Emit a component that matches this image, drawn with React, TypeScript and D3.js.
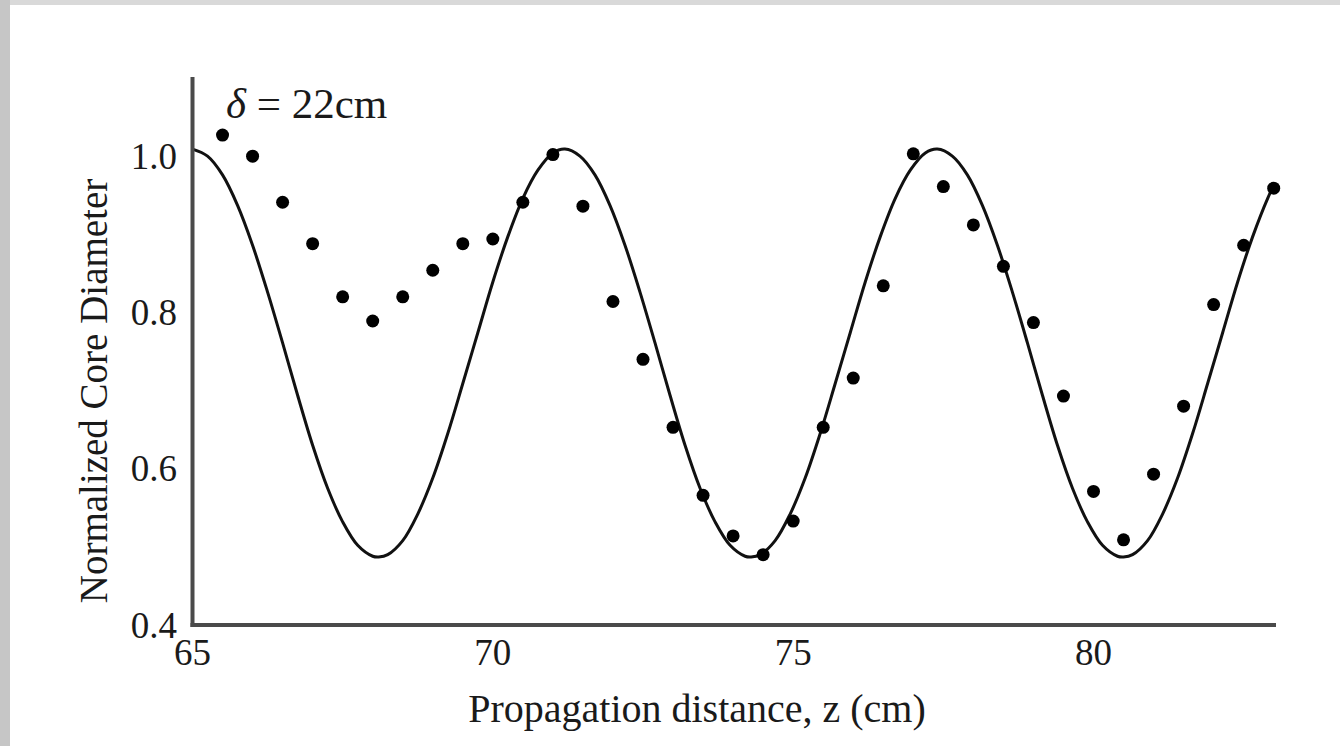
import React, { useEffect, useRef } from 'react';
import * as d3 from 'd3';

// axis ticks
const xTicks = [65, 70, 75, 80];
const yTicks = [0.4, 0.6, 0.8, 1.0];

// measured points (dots)
const dotZ = [
  65.5, 66, 66.5, 67, 67.5, 68, 68.5, 69, 69.5, 70, 70.5, 71,
  71.5, 72, 72.5, 73, 73.5, 74, 74.5, 75, 75.5, 76, 76.5, 77,
  77.5, 78, 78.5, 79, 79.5, 80, 80.5, 81, 81.5, 82, 82.5, 83,
];
const dotValues = [
  1.027, 1.0, 0.941, 0.888, 0.82, 0.789, 0.82, 0.854, 0.888, 0.894, 0.941, 1.002,
  0.936, 0.814, 0.74, 0.653, 0.566, 0.514, 0.49, 0.533, 0.653, 0.716, 0.834, 1.003,
  0.961, 0.912, 0.859, 0.787, 0.693, 0.571, 0.509, 0.593, 0.68, 0.81, 0.886, 0.959,
];

// theory curve
const fitZ = [
  65, 65.25, 65.5, 65.75, 66, 66.25, 66.5, 66.75, 67, 67.25, 67.5, 67.75, 68, 68.1,
  68.25, 68.5, 68.75, 69, 69.25, 69.5, 69.75, 70, 70.25, 70.5, 70.75, 71,
  71.2, 71.45, 71.7, 71.95, 72.2, 72.45, 72.7, 72.95, 73.2, 73.45, 73.7, 73.95, 74.2, 74.3,
  74.45, 74.7, 74.95, 75.2, 75.45, 75.7, 75.95, 76.2, 76.45, 76.7, 76.95, 77.2,
  77.4, 77.65, 77.9, 78.15, 78.4, 78.65, 78.9, 79.15, 79.4, 79.65, 79.9, 80.15, 80.4, 80.5,
  80.65, 80.9, 81.15, 81.4, 81.65, 81.9, 82.15, 82.4, 82.65, 82.9, 83,
];
const fitValues = [
  1.009, 1.0, 0.976, 0.937, 0.886, 0.826, 0.761, 0.694, 0.63, 0.575, 0.532, 0.502, 0.488, 0.487,
  0.49, 0.508, 0.542, 0.588, 0.645, 0.709, 0.774, 0.839, 0.897, 0.946, 0.982, 1.004,
  1.009, 1.0, 0.976, 0.937, 0.886, 0.826, 0.761, 0.694, 0.63, 0.575, 0.532, 0.502, 0.488, 0.487,
  0.49, 0.508, 0.542, 0.588, 0.645, 0.709, 0.774, 0.839, 0.897, 0.946, 0.982, 1.004,
  1.009, 1.0, 0.976, 0.937, 0.886, 0.826, 0.761, 0.694, 0.63, 0.575, 0.532, 0.502, 0.488, 0.487,
  0.49, 0.508, 0.542, 0.588, 0.645, 0.709, 0.774, 0.839, 0.897, 0.946, 0.962,
];

const FONT = "'Liberation Serif', 'Times New Roman', serif";

const App = () => {
  const ref = useRef<SVGSVGElement>(null);

  useEffect(() => {
    document.body.style.margin = '0';
    const svg = d3.select(ref.current);
    svg.selectAll('*').remove();

    const width = 1340;
    const height = 746;

    const x = d3.scaleLinear().domain([65, 83]).range([192.5, 1273.7]);
    const y = d3.scaleLinear().domain([0.4, 1.1]).range([625, 78]);

    // page frame
    svg.append('rect').attr('width', width).attr('height', height).attr('fill', '#fff');
    svg.append('rect').attr('width', width).attr('height', 5).attr('fill', '#d9d9d9');
    svg.append('rect').attr('width', 10).attr('height', height).attr('fill', '#c6c6c6');

    // theory curve
    const line = d3.line<number>()
      .x((d, i) => x(fitZ[i]))
      .y(d => y(d))
      .curve(d3.curveCatmullRom.alpha(0.5));

    svg.append('path')
      .attr('d', line(fitValues))
      .attr('fill', 'none')
      .attr('stroke', '#111')
      .attr('stroke-width', 3);

    // dots
    svg.append('g')
      .selectAll('circle')
      .data(dotValues)
      .join('circle')
      .attr('cx', (d, i) => x(dotZ[i]))
      .attr('cy', d => y(d))
      .attr('r', 6.5)
      .attr('fill', '#000');

    // axes
    svg.append('line')
      .attr('x1', x(65)).attr('x2', x(65))
      .attr('y1', 77).attr('y2', y(0.4) + 2)
      .attr('stroke', '#4a4a4a').attr('stroke-width', 4);
    svg.append('line')
      .attr('x1', x(65) - 2).attr('x2', 1276)
      .attr('y1', y(0.4)).attr('y2', y(0.4))
      .attr('stroke', '#4a4a4a').attr('stroke-width', 4);

    // tick labels
    svg.append('g')
      .selectAll('text')
      .data(xTicks)
      .join('text')
      .attr('x', d => x(d))
      .attr('y', 665)
      .attr('text-anchor', 'middle')
      .style('font-family', FONT)
      .style('font-size', '37px')
      .attr('fill', '#1a1a1a')
      .text(d => d);

    svg.append('g')
      .selectAll('text')
      .data(yTicks)
      .join('text')
      .attr('x', 177)
      .attr('y', d => y(d) + 12.5)
      .attr('text-anchor', 'end')
      .style('font-family', FONT)
      .style('font-size', '37px')
      .attr('fill', '#1a1a1a')
      .text(d => d.toFixed(1));

    // axis titles
    svg.append('text')
      .attr('x', 697)
      .attr('y', 722)
      .attr('text-anchor', 'middle')
      .style('font-family', FONT)
      .style('font-size', '40px')
      .attr('fill', '#1a1a1a')
      .text('Propagation distance, z (cm)');

    svg.append('text')
      .attr('transform', 'translate(107,391) rotate(-90)')
      .attr('text-anchor', 'middle')
      .style('font-family', FONT)
      .style('font-size', '39px')
      .attr('fill', '#1a1a1a')
      .text('Normalized Core Diameter');

    // annotation
    const note = svg.append('text')
      .attr('x', 226)
      .attr('y', 118)
      .style('font-family', FONT)
      .style('font-size', '43px')
      .attr('fill', '#1a1a1a');
    note.append('tspan').style('font-style', 'italic').text('δ');
    note.append('tspan').text(' = 22cm');
  }, []);

  return <svg ref={ref} width={1340} height={746} style={{ display: 'block' }} />;
};

export default App;
